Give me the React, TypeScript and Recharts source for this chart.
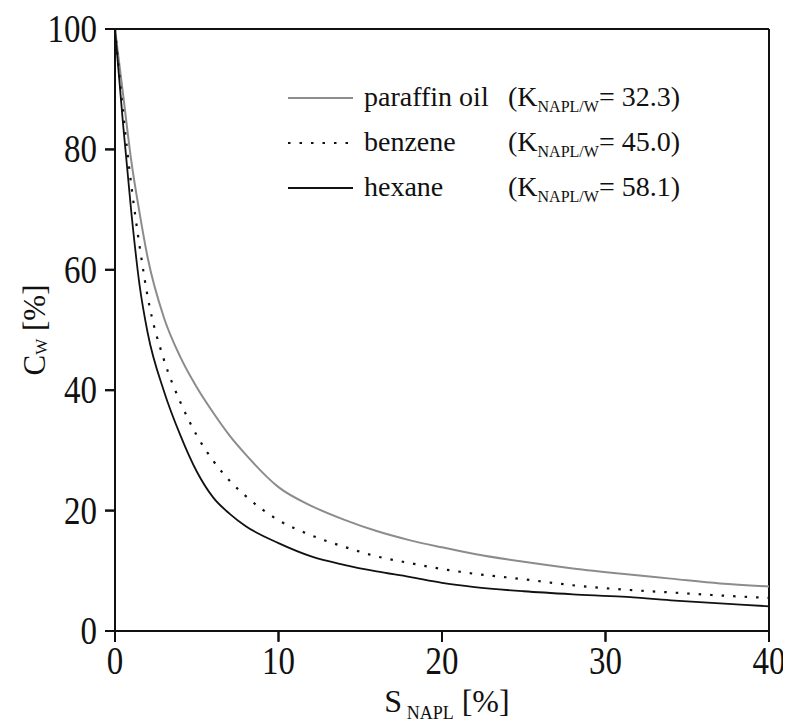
import React from 'react';
import { LineChart, Line, XAxis, YAxis, Legend, ReferenceLine } from 'recharts';

const sValues = [0, 0.5, 1, 1.5, 2, 3, 4, 5, 6, 7, 8, 10, 12, 14, 16, 18, 20, 22, 25, 28, 31, 34, 37, 40];
const paraffinOil = [100, 89, 78, 69.5, 62, 52, 45.5, 40.5, 36.3, 32.5, 29.3, 23.9, 20.8, 18.5, 16.6, 15.1, 13.9, 12.8, 11.5, 10.4, 9.5, 8.7, 7.9, 7.4];
const benzene = [100, 86, 74, 64, 55.5, 45, 38, 32.5, 28.3, 25, 22.4, 18.4, 15.9, 14, 12.4, 11.3, 10.3, 9.5, 8.6, 7.6, 6.9, 6.4, 5.9, 5.5];
const hexane = [100, 84, 69.5, 57.5, 49.5, 39.8, 32.5, 26.5, 22.2, 19.5, 17.4, 14.6, 12.4, 11, 9.9, 9, 8, 7.3, 6.6, 6.1, 5.7, 5.1, 4.6, 4.1];

const xTicks = [0, 10, 20, 30, 40];
const yTicks = [0, 20, 40, 60, 80, 100];

const legendItems = [
  { key: 'paraffin', name: 'paraffin oil', k: '32.3', color: '#8c8c8c', dash: undefined as string | undefined, width: 2 },
  { key: 'benzene', name: 'benzene', k: '45.0', color: '#111111', dash: '2.5 9' as string | undefined, width: 2.2 },
  { key: 'hexane', name: 'hexane', k: '58.1', color: '#111111', dash: undefined as string | undefined, width: 1.8 },
];

const data = sValues.map((s, i) => ({
  s,
  paraffin: paraffinOil[i],
  benzene: benzene[i],
  hexane: hexane[i],
}));

const FONT = '"Liberation Serif", "Times New Roman", serif';
const INK = '#111111';

const YTick = (props: any) => {
  const { x, y, payload } = props;
  return (
    <g>
      <path d={`M${x + 8},${y}H${x + 19}`} stroke={INK} strokeWidth={2} fill="none" />
      <g transform={`translate(${x},${y}) scale(1,1.2)`}>
        <text x={0} y={0} textAnchor="end" dominantBaseline="central" fontSize={33} fontFamily={FONT} fill={INK}>
          {payload.value}
        </text>
      </g>
    </g>
  );
};

const XTick = (props: any) => {
  const { x, y, payload } = props;
  return (
    <g>
      <path d={`M${x},${y - 18}V${y - 6}`} stroke={INK} strokeWidth={2} fill="none" />
      <g transform={`translate(${x},${y}) scale(1,1.2)`}>
        <text x={0} y={0} dy="0.66em" textAnchor="middle" fontSize={33} fontFamily={FONT} fill={INK}>
          {payload.value}
        </text>
      </g>
    </g>
  );
};

const YTitle = (props: any) => {
  const vb = props.viewBox || { x: 0, y: 0, width: 0, height: 0 };
  const cy = vb.y + vb.height / 2;
  return (
    <text
      transform={`translate(26,${cy}) rotate(-90)`}
      textAnchor="middle"
      dominantBaseline="central"
      fontSize={31}
      fontFamily={FONT}
      fill={INK}
    >
      C
      <tspan fontSize={17} dy={7}>W</tspan>
      <tspan dy={-7}> [%]</tspan>
    </text>
  );
};

const XTitle = (props: any) => {
  const vb = props.viewBox || { x: 0, y: 0, width: 0, height: 0 };
  const cx = vb.x + vb.width / 2;
  return (
    <text x={cx + 5} y={704} textAnchor="middle" fontSize={32} fontFamily={FONT} fill={INK}>
      S
      <tspan fontSize={18} dy={7}> NAPL</tspan>
      <tspan dy={-7}> [%]</tspan>
    </text>
  );
};

const LegendContent = () => (
  <svg width={440} height={140} style={{ display: 'block' }}>
    {legendItems.map((it, i) => {
      const cy = 28 + i * 45;
      return (
        <g key={it.key}>
          <line x1={8} x2={73} y1={cy} y2={cy} stroke={it.color} strokeWidth={it.width} strokeDasharray={it.dash} />
          <text x={84} y={cy + 8} fontSize={28} fontFamily={FONT} fill={INK}>
            {it.name}
          </text>
          <text x={228} y={cy + 8} fontSize={28} fontFamily={FONT} fill={INK}>
            (K
            <tspan fontSize={16} dy={6}>NAPL/W</tspan>
            <tspan dy={-6}>= {it.k})</tspan>
          </text>
        </g>
      );
    })}
  </svg>
);

export default function App() {
  return (
    <div style={{ width: 783, height: 716 }}>
      <LineChart width={783} height={716} data={data} margin={{ top: 21, right: 22, left: 0, bottom: 0 }}>
        <XAxis
          dataKey="s"
          type="number"
          domain={[0, 40]}
          ticks={xTicks}
          height={93}
          axisLine={{ stroke: INK, strokeWidth: 2 }}
          tickLine={{ stroke: INK, strokeWidth: 2 }}
          tickSize={10}
          tickMargin={7}
          tick={<XTick />}
          interval={0}
          allowDataOverflow
          label={{ content: <XTitle /> } as any}
        />
        <YAxis
          type="number"
          domain={[0, 100]}
          ticks={yTicks}
          width={107}
          axisLine={{ stroke: INK, strokeWidth: 2 }}
          tickLine={{ stroke: INK, strokeWidth: 2 }}
          tickSize={10}
          tickMargin={8}
          tick={<YTick />}
          interval={0}
          allowDataOverflow
          label={{ content: <YTitle /> } as any}
        />
        <ReferenceLine y={100} stroke={INK} strokeWidth={2} />
        <ReferenceLine x={40} stroke={INK} strokeWidth={2} />
        <Legend
          layout="vertical"
          align="center"
          verticalAlign="middle"
          content={<LegendContent />}
          wrapperStyle={{ position: 'absolute', left: 272, top: 62, width: 440, height: 140 }}
        />
        {legendItems.map((it) => (
          <Line
            key={it.key}
            dataKey={it.key}
            name={it.name}
            type="monotone"
            stroke={it.color}
            strokeWidth={it.width}
            strokeDasharray={it.dash}
            dot={false}
            activeDot={false}
            isAnimationActive={false}
          />
        ))}
      </LineChart>
    </div>
  );
}
